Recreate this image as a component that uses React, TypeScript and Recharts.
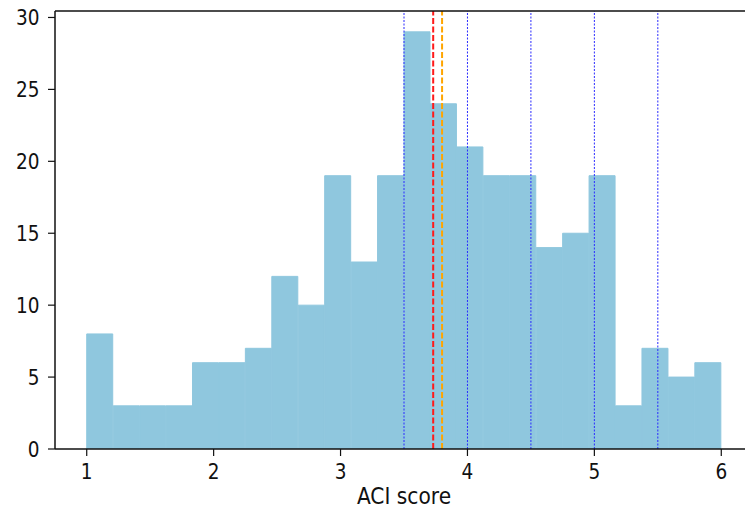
import React from "react";
import {
  ComposedChart,
  Bar,
  XAxis,
  YAxis,
  ReferenceLine,
} from "recharts";

// histogram of ACI scores: 24 bins between 1 and 6
const binStart = 1;
const binEnd = 6;
const counts = [8, 3, 3, 3, 6, 6, 7, 12, 10, 19, 13, 19, 29, 24, 21, 19, 19, 14, 15, 19, 3, 7, 5, 6];

const quantileLines = [3.5, 4, 4.5, 5, 5.5];
const meanValue = 3.73;
const medianValue = 3.8;

const xTicks = [1, 2, 3, 4, 5, 6];
const yTicks = [0, 5, 10, 15, 20, 25, 30];

const binWidth = (binEnd - binStart) / counts.length;
const data = counts.map((count, i) => ({
  x: binStart + (i + 0.5) * binWidth,
  count,
}));

const barColor = "#8fc7de";
const tickSize = 18.5;
const labelSize = 20.2;
// the source image is a bit stretched vertically
const stretch = 1.15;
const capRatio = 0.729;
const textStyle = { fontFamily: "DejaVu Sans", fill: "#111" };

const XTick = (props: any) => {
  const { x, y, payload } = props;
  const base = y + tickSize * capRatio * stretch;
  return (
    <g transform={`translate(${x},${base}) scale(1,${stretch})`}>
      <text x={0} y={0} textAnchor="middle" fontSize={tickSize} style={textStyle}>
        {payload.value}
      </text>
    </g>
  );
};

const YTick = (props: any) => {
  const { x, y, payload } = props;
  const base = y + (tickSize * capRatio * stretch) / 2;
  return (
    <g transform={`translate(${x},${base}) scale(1,${stretch})`}>
      <text x={0} y={0} textAnchor="end" fontSize={tickSize} style={textStyle}>
        {payload.value}
      </text>
    </g>
  );
};

const AxisTitle = (props: any) => {
  const { viewBox } = props;
  const cx = viewBox.x + viewBox.width / 2;
  return (
    <g transform={`translate(${cx},504) scale(1,${stretch})`}>
      <text x={0} y={0} textAnchor="middle" fontSize={labelSize} style={textStyle}>
        ACI score
      </text>
    </g>
  );
};

export default function App() {
  return (
    <div
      style={{
        position: "absolute",
        left: 0,
        top: 0,
        width: 745,
        height: 508,
        overflow: "hidden",
        background: "#fff",
      }}
    >
      <ComposedChart
        width={760}
        height={508}
        data={data}
        barCategoryGap={0}
        barGap={0}
        margin={{ top: 11, right: 7, left: 0, bottom: 0 }}
      >
        <XAxis
          dataKey="x"
          type="number"
          domain={[0.75, 6.25]}
          ticks={xTicks}
          allowDataOverflow
          height={59}
          tickSize={7}
          tickMargin={7}
          tick={<XTick />}
          axisLine={{ stroke: "#111", strokeWidth: 1.5 }}
          tickLine={{ stroke: "#111", strokeWidth: 1.2 }}
          label={<AxisTitle />}
        />
        <YAxis
          type="number"
          domain={[0, 30.45]}
          ticks={yTicks}
          allowDataOverflow
          width={55}
          tickSize={7}
          tickMargin={8.5}
          tick={<YTick />}
          axisLine={{ stroke: "#111", strokeWidth: 1.5 }}
          tickLine={{ stroke: "#111", strokeWidth: 1.2 }}
        />
        <Bar
          dataKey="count"
          fill={barColor}
          stroke={barColor}
          strokeWidth={1}
          isAnimationActive={false}
        />
        {quantileLines.map((q) => (
          <ReferenceLine
            key={q}
            x={q}
            stroke="#2a2aff"
            strokeWidth={1}
            strokeDasharray="2 1.5"
          />
        ))}
        <ReferenceLine x={meanValue} stroke="#ff1a1a" strokeWidth={2} strokeDasharray="6 2.5" />
        <ReferenceLine x={medianValue} stroke="#ffa500" strokeWidth={2} strokeDasharray="6 2.5" />
        <ReferenceLine y={30.45} stroke="#111" strokeWidth={1.5} />
      </ComposedChart>
    </div>
  );
}
